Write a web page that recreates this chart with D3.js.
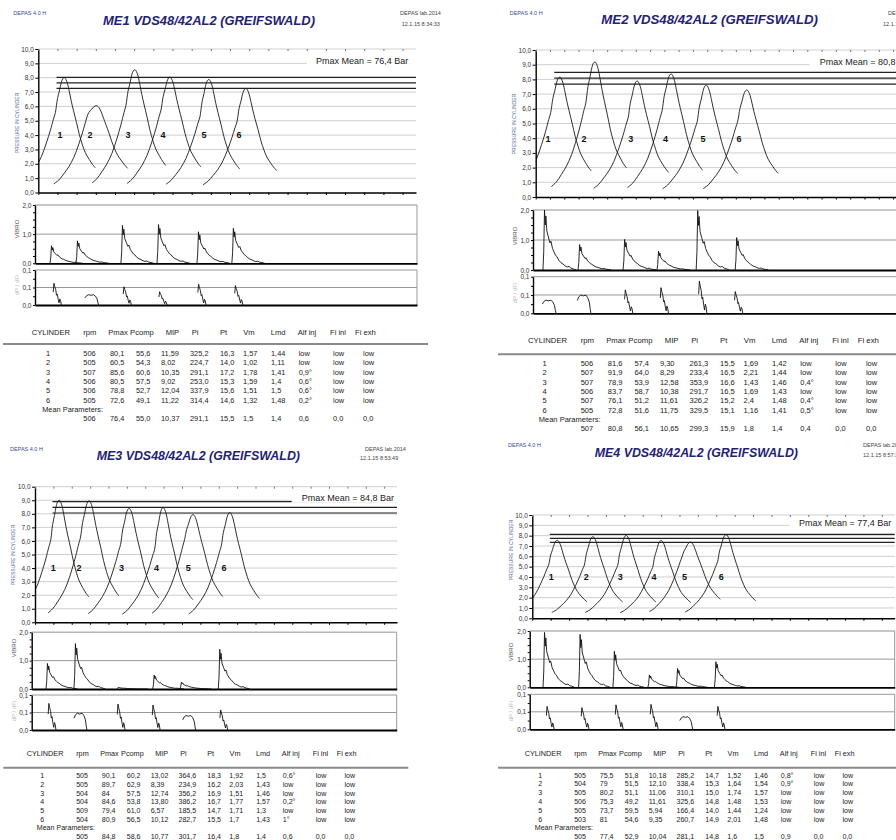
<!DOCTYPE html>
<html>
<head>
<meta charset="utf-8">
<script src="https://cdn.jsdelivr.net/npm/d3@7/dist/d3.min.js"></script>
<style>
  body { margin: 0; background: #fff; }
  svg { display: block; }
  text { font-family: "Liberation Sans", Arial, sans-serif; }
</style>
</head>
<body>
<svg id="chart" width="896" height="840"></svg>
<script>
// ---- shared labels ----
var columns = ["CYLINDER", "rpm", "Pmax", "Pcomp", "MIP", "Pi", "Pt", "Vm", "Lmd", "Alf inj", "Fi inl", "Fi exh"];
var pressureTicks = ["0,0", "1,0", "2,0", "3,0", "4,0", "5,0", "6,0", "7,0", "8,0", "9,0", "10,0"];
var vibroTicks = ["0,0", "1,0", "2,0"];
var dpTicks = ["0,0", "0,1", "0,1"];

// pressure trace profile around Pmax (crank units):
// compression part scales with Pcomp, firing part with (Pmax - Pcomp)
var profileAngle  = [-22.4, -19.8, -17.2, -14.6, -12, -9.4, -7.3, -5.7, -4.7, -3.6, -2.6, -1.6, -0.8, 0, 0.8, 1.6, 2.6, 3.6, 4.7, 6.3, 7.8, 9.4, 10.9, 13, 14.6, 16.1];
var profileMotor  = [0.11, 0.16, 0.24, 0.33, 0.45, 0.62, 0.78, 0.92, 1, 1, 1, 1, 1, 1, 0.99, 0.97, 0.93, 0.88, 0.82, 0.73, 0.63, 0.54, 0.47, 0.40, 0.35, 0.31];
var profileFiring = [0, 0, 0, 0, 0, 0, 0, 0, 0, 0.40, 0.62, 0.86, 0.97, 1, 0.97, 0.90, 0.75, 0.60, 0.48, 0.34, 0.22, 0.13, 0.07, 0.03, 0.01, 0];

// vibro burst and dP/dFi trace shapes [crank offset, fraction of peak]
var vibroShape = [[0, 0], [0.4, 0.3], [0.8, 1], [1.2, 0.75], [1.5, 0.9], [2, 0.65], [2.8, 0.55], [3.6, 0.45], [4.1, 0.48], [4.9, 0.36], [5.7, 0.3], [6.4, 0.25], [7.2, 0.22], [8.2, 0.16], [9.3, 0.12], [10.3, 0.1], [11.3, 0.07], [12.4, 0.05], [13.4, 0.06], [14.4, 0.03], [15.5, 0.02], [17, 0]];
var dpSpike = [[0, 0.6], [0.36, 1], [0.77, 0.85], [1.3, 0.7], [1.7, 0.45], [2.06, 0.5], [2.6, 0.25], [3, 0.1], [3.4, 0.28], [3.8, 0.2], [4.2, 0]];
var dpCap = [[0, 0.7], [0.8, 0.9], [1.8, 1], [3.1, 0.95], [4.4, 1], [5.4, 0.85], [6.2, 0.6], [6.7, 0.2], [7, 0]];

// ---- ME1 ----
var me1Title = "ME1 VDS48/42AL2 (GREIFSWALD)";
var me1Date = "12.1.15 8:34:33";
var me1Rows = [
  ["1", "506", "80,1", "55,6", "11,59", "325,2", "16,3", "1,57", "1,44", "low", "low", "low"],
  ["2", "505", "60,5", "54,3", "8,02", "224,7", "14,0", "1,02", "1,11", "low", "low", "low"],
  ["3", "507", "85,6", "60,6", "10,35", "291,1", "17,2", "1,78", "1,41", "0,9°", "low", "low"],
  ["4", "506", "80,5", "57,5", "9,02", "253,0", "15,3", "1,59", "1,4", "0,6°", "low", "low"],
  ["5", "506", "78,8", "52,7", "12,04", "337,9", "15,6", "1,51", "1,5", "0,6°", "low", "low"],
  ["6", "505", "72,6", "49,1", "11,22", "314,4", "14,6", "1,32", "1,48", "0,2°", "low", "low"]
];
var me1Mean = ["506", "76,4", "55,0", "10,37", "291,1", "15,5", "1,5", "1,4", "0,6", "0,0", "0,0"];
var me1Limits = [80.2, 76.4, 72.6];
var me1PeakAt = [13.6, 30.5, 50.4, 68.7, 89.0, 108.3];
var me1LabelAt = [11.3, 27, 46.8, 65, 86.4, 104.7];
var me1VibroAt = [7.7, 21.1, 44.3, 62.9, 83.5, 101.5];
var me1VibroAmp = [0.6, 0.77, 1.3, 1.33, 1.08, 1.2];
var me1DpAt = [9.4, 25.8, 45.5, 63.9, 84, 103];
var me1DpAmp = [0.093, 0.044, 0.078, 0.057, 0.089, 0.083];
var me1DpKind = ["s", "c", "s", "s", "s", "s"];

// ---- ME2 ----
var me2Title = "ME2 VDS48/42AL2 (GREIFSWALD)";
var me2Date = "12.1.15 8:57:10";
var me2Rows = [
  ["1", "506", "81,6", "57,4", "9,30", "261,3", "15,5", "1,69", "1,42", "low", "low", "low"],
  ["2", "507", "91,9", "64,0", "8,29", "233,4", "16,5", "2,21", "1,44", "low", "low", "low"],
  ["3", "507", "78,9", "53,9", "12,58", "353,9", "16,6", "1,43", "1,46", "0,4°", "low", "low"],
  ["4", "506", "83,7", "58,7", "10,38", "291,7", "16,5", "1,69", "1,43", "low", "low", "low"],
  ["5", "507", "76,1", "51,2", "11,61", "326,2", "15,2", "2,4", "1,48", "0,4°", "low", "low"],
  ["6", "505", "72,8", "51,6", "11,75", "329,5", "15,1", "1,16", "1,41", "0,5°", "low", "low"]
];
var me2Mean = ["507", "80,8", "56,1", "10,65", "299,3", "15,9", "1,8", "1,4", "0,4", "0,0", "0,0"];
var me2Limits = [84.8, 80.8, 76.8];
var me2PeakAt = [12.4, 30.4, 52.1, 69.5, 87.5, 108.3];
var me2LabelAt = [6.3, 24.8, 48.7, 66.5, 85.8, 104.3];
var me2VibroAt = [5.1, 23.1, 46.2, 63.6, 83.7, 103.7];
var me2VibroAmp = [2.0, 0.85, 1.02, 0.63, 1.98, 1.08];
var me2DpAt = [4.8, 22.7, 47, 65.3, 85, 103.4];
var me2DpAmp = [0.054, 0.075, 0.096, 0.105, 0.132, 0.089];
var me2DpKind = ["c", "c", "s", "s", "s", "s"];

// ---- ME3 ----
var me3Title = "ME3 VDS48/42AL2 (GREIFSWALD)";
var me3Date = "12.1.15 8:53:49";
var me3Rows = [
  ["1", "505", "90,1", "60,2", "13,02", "364,6", "18,3", "1,92", "1,5", "0,6°", "low", "low"],
  ["2", "505", "89,7", "62,9", "8,39", "234,9", "16,2", "2,03", "1,43", "low", "low", "low"],
  ["3", "504", "84", "57,5", "12,74", "356,2", "16,9", "1,51", "1,46", "low", "low", "low"],
  ["4", "504", "84,6", "53,8", "13,80", "386,2", "16,7", "1,77", "1,57", "0,2°", "low", "low"],
  ["5", "509", "79,4", "61,0", "6,57", "185,5", "14,7", "1,71", "1,3", "low", "low", "low"],
  ["6", "504", "80,9", "56,5", "10,12", "282,7", "15,5", "1,7", "1,43", "1°", "low", "low"]
];
var me3Mean = ["505", "84,8", "58,6", "10,77", "301,7", "16,4", "1,8", "1,4", "0,6", "0,0", "0,0"];
var me3Limits = [89.0, 84.8, 80.6];
var me3PeakAt = [13.2, 29.5, 51.3, 69.8, 86.1, 106.1];
var me3LabelAt = [10, 24, 47.1, 66.1, 83.4, 102.8];
var me3VibroAt = [7.7, 22.8, 45.9, 65.3, 80, 100.7];
var me3VibroAmp = [0.9, 1.6, 0.06, 0.49, 0.24, 1.4];
var me3DpAt = [8.9, 22.8, 46.2, 65.1, 81.5, 101.6];
var me3DpAmp = [0.114, 0.072, 0.111, 0.107, 0.062, 0.086];
var me3DpKind = ["s", "c", "s", "s", "c", "s"];

// ---- ME4 ----
var me4Title = "ME4 VDS48/42AL2 (GREIFSWALD)";
var me4Date = "12.1.15 8:57:31";
var me4Rows = [
  ["1", "505", "75,5", "51,8", "10,18", "285,2", "14,7", "1,52", "1,46", "0,8°", "low", "low"],
  ["2", "504", "79", "51,5", "12,10", "338,4", "15,3", "1,64", "1,54", "0,9°", "low", "low"],
  ["3", "505", "80,2", "51,1", "11,06", "310,1", "15,0", "1,74", "1,57", "low", "low", "low"],
  ["4", "506", "75,3", "49,2", "11,61", "325,6", "14,8", "1,48", "1,53", "low", "low", "low"],
  ["5", "505", "73,7", "59,5", "5,94", "166,4", "14,0", "1,44", "1,24", "low", "low", "low"],
  ["6", "503", "81", "54,6", "9,35", "260,7", "14,9", "2,01", "1,48", "low", "low", "low"]
];
var me4Mean = ["505", "77,4", "52,9", "10,04", "281,1", "14,8", "1,6", "1,5", "0,9", "0,0", "0,0"];
var me4Limits = [81.3, 77.4, 73.5];
var me4PeakAt = [13.6, 33.0, 51.1, 70.1, 86.1, 105.4];
var me4LabelAt = [10.3, 29.3, 47.8, 66.1, 82.8, 102.7];
var me4VibroAt = [7.2, 26.4, 44.9, 63.8, 79, 99.7];
var me4VibroAmp = [1.95, 1.88, 1.28, 0.44, 0.67, 0.91];
var me4DpAt = [9, 27.8, 46.2, 65.1, 81, 101.2];
var me4DpAmp = [0.098, 0.093, 0.105, 0.107, 0.054, 0.098];
var me4DpKind = ["s", "s", "s", "s", "c", "s"];

// table column offsets (ME1 page scale)
var headOff = [0, 51.6, 76.6, 98.4, 134, 160, 188.3, 211.6, 239, 266, 298.3, 323.3];
var valOff = [16.3, 51.6, 78.3, 104.3, 129.3, 158.3, 188.3, 211.3, 239.3, 267, 301.3, 331.3];

var svg = d3.select("#chart");
var X_MAX = 197;
function num(s) { return +String(s).replace(",", "."); }

var panels = [
  { id: 1, title: me1Title, date: me1Date, rows: me1Rows, mean: me1Mean, limits: me1Limits,
    peakAt: me1PeakAt, labelAt: me1LabelAt, vibAt: me1VibroAt, vibAmp: me1VibroAmp,
    dpAt: me1DpAt, dpAmp: me1DpAmp, dpKind: me1DpKind,
    L: { depas: [13.3, 15.3], title: [103, 25, 212], lab: [400, 15.3], date: [401.7, 26.3],
      p: [38.3, 416, 49, 192.5], step: 10, pT: [17, 123], boxX: 307, textX: 316,
      v: [35, 417, 205, 263.3], vT: [17, 229], d: [35, 417, 270, 305], dT: [17, 285],
      t: { x: 31.7, s: 1, head: 331.7, sep: 344, sx0: 3, sx1: 428, row: 353.3, dy: 9.3 } } },
  { id: 2, title: me2Title, date: me2Date, rows: me2Rows, mean: me2Mean, limits: me2Limits,
    peakAt: me2PeakAt, labelAt: me2LabelAt, vibAt: me2VibroAt, vibAmp: me2VibroAmp,
    dpAt: me2DpAt, dpAmp: me2DpAmp, dpKind: me2DpKind,
    L: { depas: [509.7, 14.7], title: [601.3, 24.3, 216.7], lab: [888, 14.7], date: [883, 26.3],
      p: [535.7, 919.9, 50, 197], step: 7.33, pT: [514.7, 124], boxX: 809.7, textX: 819.7,
      v: [533, 917, 210, 270], vT: [514.7, 236], d: [533, 917, 276.7, 313.3], dT: [514.7, 293],
      t: { x: 528, s: 1.02, head: 340, sep: 354.3, sx0: 498, sx1: 930, row: 363.3, dy: 9.3 } } },
  { id: 3, title: me3Title, date: me3Date, rows: me3Rows, mean: me3Mean, limits: me3Limits,
    peakAt: me3PeakAt, labelAt: me3LabelAt, vibAt: me3VibroAt, vibAmp: me3VibroAmp,
    dpAt: me3DpAt, dpAmp: me3DpAmp, dpKind: me3DpKind,
    L: { depas: [10, 451.3], title: [96.7, 460, 203.3], lab: [365, 451.3], date: [360, 460.3],
      p: [35, 397, 486.7, 622.3], step: 10, pT: [13.3, 555], boxX: 291.7, textX: 301.7,
      v: [31.7, 396.7, 632.3, 689], vT: [14, 648], d: [31.7, 396.7, 695, 730], dT: [14, 711],
      t: { x: 26.7, s: 0.959, head: 753.3, sep: 767.7, sx0: 3.3, sx1: 408.3, row: 775.7, dy: 8.7 } } },
  { id: 4, title: me4Title, date: me4Date, rows: me4Rows, mean: me4Mean, limits: me4Limits,
    peakAt: me4PeakAt, labelAt: me4LabelAt, vibAt: me4VibroAt, vibAmp: me4VibroAmp,
    dpAt: me4DpAt, dpAmp: me4DpAmp, dpKind: me4DpKind,
    L: { depas: [508, 447], title: [594.7, 456.7, 203.3], lab: [863, 447], date: [863, 457],
      p: [532.3, 894.7, 515, 618.3], step: 10, pT: [511.3, 550], boxX: 789.7, textX: 799,
      v: [529.7, 894.7, 631, 687.3], vT: [511.3, 652], d: [529.7, 894.7, 694.3, 729.3], dT: [511.3, 711],
      t: { x: 524.7, s: 0.959, head: 753.3, sep: 767.7, sx0: 498, sx1: 896, row: 775, dy: 8.8 } } }
];

function styleAxis(ax, size) {
  ax.attr("font-family", "'Liberation Sans', Arial, sans-serif").attr("font-size", size);
  ax.selectAll("text").attr("fill", "#333");
}

function yTitle(g, pos, label, size, color) {
  g.append("text")
    .attr("transform", "translate(" + pos[0] + "," + pos[1] + ") rotate(-90)")
    .attr("text-anchor", "middle")
    .attr("dy", "0.35em")
    .attr("font-size", size)
    .attr("fill", color)
    .text(label);
}

function drawPanel(P) {
  var L = P.L;
  var g = svg.append("g");

  // header texts
  g.append("text").attr("x", L.depas[0]).attr("y", L.depas[1])
    .attr("font-size", 5.5).attr("fill", "#3b4b8c").text("DEPAS 4.0 H");
  g.append("text").attr("x", L.title[0]).attr("y", L.title[1])
    .attr("textLength", L.title[2]).attr("lengthAdjust", "spacingAndGlyphs")
    .attr("font-size", 13).attr("font-weight", "bold").attr("font-style", "italic")
    .attr("fill", "#1f2277").text(P.title);
  g.append("text").attr("x", L.lab[0]).attr("y", L.lab[1])
    .attr("font-size", 5.5).attr("fill", "#444").text("DEPAS lab.2014");
  g.append("text").attr("x", L.date[0]).attr("y", L.date[1])
    .attr("font-size", 5.5).attr("fill", "#444").text(P.date);

  // ---------- pressure chart ----------
  var x = d3.scaleLinear().domain([0, X_MAX]).range([L.p[0], L.p[1]]);
  var y = d3.scaleLinear().domain([0, 10]).range([L.p[3], L.p[2]]);

  g.append("g").selectAll("line").data(d3.range(1, 11)).join("line")
    .attr("x1", L.p[0]).attr("x2", L.p[1])
    .attr("y1", d => y(d)).attr("y2", d => y(d))
    .attr("stroke", "#cfcfcf").attr("stroke-width", 1);

  g.append("g").selectAll("line").data(P.limits).join("line")
    .attr("x1", x(9.5)).attr("x2", L.p[1])
    .attr("y1", d => y(d / 10)).attr("y2", d => y(d / 10))
    .attr("stroke", "#222").attr("stroke-width", 1.2);

  g.append("rect").attr("x", L.boxX).attr("y", y(9) - 9)
    .attr("width", L.p[1] - L.boxX).attr("height", 11.5).attr("fill", "#fff");
  g.append("text").attr("x", L.textX).attr("y", y(9) + 0.5)
    .attr("font-size", 9).attr("fill", "#222")
    .text("Pmax Mean = " + P.mean[1] + " Bar");

  var clipId = "clip" + P.id;
  g.append("clipPath").attr("id", clipId).append("rect")
    .attr("x", L.p[0]).attr("y", L.p[2] - 5)
    .attr("width", L.p[1] - L.p[0]).attr("height", L.p[3] - L.p[2] + 5);

  var line = d3.line().x(d => x(d[0])).y(d => y(d[1])).curve(d3.curveCatmullRom.alpha(0.5));
  var curves = P.rows.map(function (r, i) {
    var pm = num(r[2]) / 10, pc = num(r[3]) / 10;
    return profileAngle.map(function (a, k) {
      return [P.peakAt[i] + a, pc * profileMotor[k] + (pm - pc) * profileFiring[k]];
    });
  });
  g.append("g").attr("clip-path", "url(#" + clipId + ")")
    .selectAll("path").data(curves).join("path")
    .attr("d", line).attr("fill", "none")
    .attr("stroke", "#1a1a1a").attr("stroke-width", 0.9);

  g.append("g").selectAll("text").data(P.rows).join("text")
    .attr("x", (d, i) => x(P.labelAt[i])).attr("y", y(4) + 3.3)
    .attr("text-anchor", "middle").attr("font-size", 9).attr("font-weight", "bold")
    .attr("fill", "#111").text(d => d[0]);

  var axL = g.append("g").attr("transform", "translate(" + L.p[0] + ",0)")
    .call(d3.axisLeft(y).tickValues(d3.range(0, 11)).tickFormat((d, i) => pressureTicks[i])
      .tickSizeInner(3).tickSizeOuter(0).tickPadding(1.5));
  styleAxis(axL, 6.5);
  axL.select(".domain").attr("stroke", "#000").attr("stroke-width", 1.4);

  var xt = d3.range(0, X_MAX + 0.01, L.step);
  var axB = g.append("g").attr("transform", "translate(0," + L.p[3] + ")")
    .call(d3.axisBottom(x).tickValues(xt).tickFormat("").tickSizeInner(2.5).tickSizeOuter(0));
  axB.select(".domain").attr("stroke", "#000").attr("stroke-width", 1.5);
  var axT = g.append("g").attr("transform", "translate(0," + L.p[2] + ")")
    .call(d3.axisBottom(x).tickValues(xt).tickFormat("").tickSizeInner(2).tickSizeOuter(0));
  axT.select(".domain").remove();
  axT.selectAll("line").attr("stroke", "#777");

  yTitle(g, L.pT, "PRESSURE IN CYLINDER", 5, "#4a5a88");

  // ---------- vibro chart ----------
  var xv = d3.scaleLinear().domain([0, X_MAX]).range([L.v[0], L.v[1]]);
  var yv = d3.scaleLinear().domain([0, 2]).range([L.v[3], L.v[2]]);
  g.append("line").attr("x1", L.v[0]).attr("x2", L.v[1]).attr("y1", yv(1)).attr("y2", yv(1))
    .attr("stroke", "#999").attr("stroke-width", 1);
  g.append("line").attr("x1", L.v[0]).attr("x2", L.v[1]).attr("y1", yv(2)).attr("y2", yv(2))
    .attr("stroke", "#b5b5b5").attr("stroke-width", 1.5);
  g.append("line").attr("x1", L.v[1]).attr("x2", L.v[1]).attr("y1", yv(2)).attr("y2", yv(0))
    .attr("stroke", "#999").attr("stroke-width", 1);

  var vline = d3.line().x(d => xv(d[0])).y(d => yv(d[1]));
  var bursts = P.vibAt.map(function (at, i) {
    return vibroShape.map(s => [at + s[0], P.vibAmp[i] * s[1]]);
  });
  g.append("g").selectAll("path").data(bursts).join("path")
    .attr("d", vline).attr("fill", "none").attr("stroke", "#111").attr("stroke-width", 0.9);

  var avL = g.append("g").attr("transform", "translate(" + L.v[0] + ",0)")
    .call(d3.axisLeft(yv).tickValues(d3.range(0, 2.01, 0.25))
      .tickFormat(d => (d % 1 === 0 ? vibroTicks[d] : "")).tickSizeInner(2).tickSizeOuter(0).tickPadding(1.5));
  styleAxis(avL, 6.5);
  avL.select(".domain").attr("stroke", "#000").attr("stroke-width", 1.4);
  var avB = g.append("g").attr("transform", "translate(0," + L.v[3] + ")")
    .call(d3.axisBottom(xv).tickValues(xt).tickFormat("").tickSizeInner(0).tickSizeOuter(0));
  avB.select(".domain").attr("stroke", "#000").attr("stroke-width", 1.8);
  yTitle(g, L.vT, "VIBRO", 6, "#555");

  // ---------- dP / dFi chart ----------
  var yd = d3.scaleLinear().domain([0, 0.15]).range([L.d[3], L.d[2]]);
  g.append("line").attr("x1", L.d[0]).attr("x2", L.d[1]).attr("y1", yd(0.075)).attr("y2", yd(0.075))
    .attr("stroke", "#999").attr("stroke-width", 1);
  g.append("line").attr("x1", L.d[0]).attr("x2", L.d[1]).attr("y1", yd(0.15)).attr("y2", yd(0.15))
    .attr("stroke", "#999").attr("stroke-width", 1);
  g.append("line").attr("x1", L.d[1]).attr("x2", L.d[1]).attr("y1", yd(0.15)).attr("y2", yd(0))
    .attr("stroke", "#999").attr("stroke-width", 1);

  var dline = d3.line().x(d => xv(d[0])).y(d => yd(d[1]));
  var dtr = P.dpAt.map(function (at, i) {
    var shape = P.dpKind[i] === "c" ? dpCap : dpSpike;
    return shape.map(s => [at + s[0], P.dpAmp[i] * s[1]]);
  });
  g.append("g").selectAll("path").data(dtr).join("path")
    .attr("d", dline).attr("fill", "none").attr("stroke", "#111").attr("stroke-width", 0.9);

  var adL = g.append("g").attr("transform", "translate(" + L.d[0] + ",0)")
    .call(d3.axisLeft(yd).tickValues([0, 0.0375, 0.075, 0.1125, 0.15])
      .tickFormat((d, i) => (i % 2 === 0 ? dpTicks[i / 2] : "")).tickSizeInner(2).tickSizeOuter(0).tickPadding(1.5));
  styleAxis(adL, 6.5);
  adL.select(".domain").attr("stroke", "#000").attr("stroke-width", 1.4);
  var adB = g.append("g").attr("transform", "translate(0," + L.d[3] + ")")
    .call(d3.axisBottom(xv).tickValues(xt).tickFormat("").tickSizeInner(0).tickSizeOuter(0));
  adB.select(".domain").attr("stroke", "#000").attr("stroke-width", 1.8);
  yTitle(g, L.dT, "dP / dFi", 6, "#bbb");

  // ---------- parameter table ----------
  var T = L.t, s = T.s;
  g.append("g").selectAll("text").data(columns).join("text")
    .attr("x", (d, i) => T.x + headOff[i] * s).attr("y", T.head + 2.8 * s)
    .attr("font-size", 7.6 * s).attr("fill", "#222").text(d => d);
  g.append("line").attr("x1", T.sx0).attr("x2", T.sx1).attr("y1", T.sep).attr("y2", T.sep)
    .attr("stroke", "#8a8a8a").attr("stroke-width", 2);

  var rowsG = g.append("g").attr("font-size", 7.4 * s).attr("fill", "#222");
  P.rows.forEach(function (r, i) {
    var yy = T.row + i * T.dy + 2.7 * s;
    r.forEach(function (v, j) {
      rowsG.append("text")
        .attr("x", T.x + valOff[j] * s).attr("y", yy)
        .attr("text-anchor", j === 0 ? "middle" : "start")
        .text(v);
    });
  });
  rowsG.append("text").attr("x", T.x + 10.5 * s).attr("y", T.row + 6 * T.dy + 2.7 * s)
    .text("Mean Parameters:");
  P.mean.forEach(function (v, j) {
    rowsG.append("text")
      .attr("x", T.x + valOff[j + 1] * s).attr("y", T.row + 7 * T.dy + 2.7 * s)
      .text(v);
  });
}

panels.forEach(drawPanel);
</script>
</body>
</html>
